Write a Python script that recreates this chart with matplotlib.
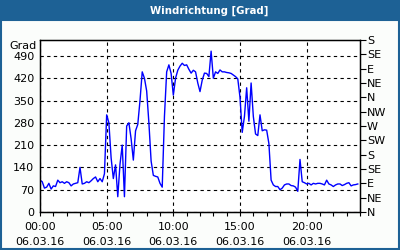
import matplotlib
matplotlib.use("Agg")
import matplotlib.pyplot as plt
import numpy as np
from matplotlib.patches import Rectangle

# wind direction, 10 minute values from 00:00 to 23:50 (06.03.16)
wind_dir = [
    100, 95, 75, 78, 90, 72, 82, 80, 100, 92,
    95, 90, 95, 92, 82, 88, 90, 92, 140, 88,
    90, 95, 92, 98, 105, 110, 95, 105, 95, 120,
    305, 280, 170, 105, 148, 48, 150, 210, 48, 270,
    280, 230, 163, 255, 275, 350, 440, 420, 380, 280,
    160, 115, 112, 110, 90, 78, 300, 440, 462, 435,
    367, 420, 445, 458, 467, 460, 462, 448, 436, 445,
    440, 405, 378, 414, 436, 435, 425, 505, 420, 440,
    435, 446, 440, 440, 438, 437, 435, 430, 425, 418,
    360, 250, 300, 390, 285, 405, 300, 245, 240, 305,
    255, 258, 257, 215, 100, 85, 80, 80, 70, 75,
    85, 88, 88, 83, 82, 78, 65, 165, 95, 92,
    88, 90, 85, 90, 88, 90, 90, 88, 85, 100,
    88, 85, 80, 85, 88, 88, 83, 86, 90, 92,
    82, 85, 86, 88,
]
step_minutes = 10

y_ticks = [0, 70, 140, 210, 280, 350, 420, 490]
x_ticks = [0, 5, 10, 15, 20]
x_labels = ["00:00\n06.03.16", "05:00\n06.03.16", "10:00\n06.03.16",
            "15:00\n06.03.16", "20:00\n06.03.16"]
compass = ["N", "NE", "E", "SE", "S", "SW", "W", "NW", "N", "NE", "E", "SE", "S"]

bar_color = "#1d6195"

hours = np.arange(len(wind_dir)) * step_minutes / 60.0

fig = plt.figure(figsize=(4, 2.5), dpi=100)
fig.patch.set_facecolor("#fbfdfb")

# title bar and frame
fig.patches.append(Rectangle((0, 1 - 20 / 250), 1, 20 / 250, transform=fig.transFigure,
                             facecolor=bar_color, edgecolor="none", zorder=0))
fig.patches.append(Rectangle((0.5 / 400, 1 / 250), 1 - 2 / 400, 1 - 21 / 250,
                             transform=fig.transFigure, facecolor="none",
                             edgecolor=bar_color, lw=1.5, zorder=0))
fig.text(0.522, 1 - 10.5 / 250, "Windrichtung [Grad]", color="white", fontsize=7.3,
         fontweight="bold", ha="center", va="center")

ax = fig.add_axes([40 / 400, 38 / 250, 320 / 400, 172 / 250])
ax.set_facecolor("white")
ax.plot(hours, wind_dir, color="#0000ff", lw=1.0)

ax.set_xlim(0, 24)
ax.set_ylim(0, 540)
ax.set_yticks(y_ticks)
ax.set_xticks(x_ticks)
ax.set_xticklabels(x_labels, linespacing=1.7)
ax.set_xticks(np.arange(0, 25, 1), minor=True)
ax.tick_params(axis="x", which="both", length=3, width=0.8, labelsize=8, pad=4)
ax.tick_params(axis="y", length=0, labelsize=8, pad=4)
ax.grid(True, color="black", linestyle=(0, (3, 3)), lw=0.8)
for s in ax.spines.values():
    s.set_linewidth(1.0)
ax.text(-0.012, 521, "Grad", transform=ax.get_yaxis_transform(), ha="right",
        va="center", fontsize=8)

ax2 = ax.twinx()
ax2.set_ylim(0, 540)
ax2.set_yticks(np.arange(0, 541, 45))
ax2.set_yticklabels(compass)
ax2.tick_params(axis="y", length=4, width=0.8, labelsize=8, pad=1)

fig.savefig("out.png", dpi=100, facecolor=fig.get_facecolor())
